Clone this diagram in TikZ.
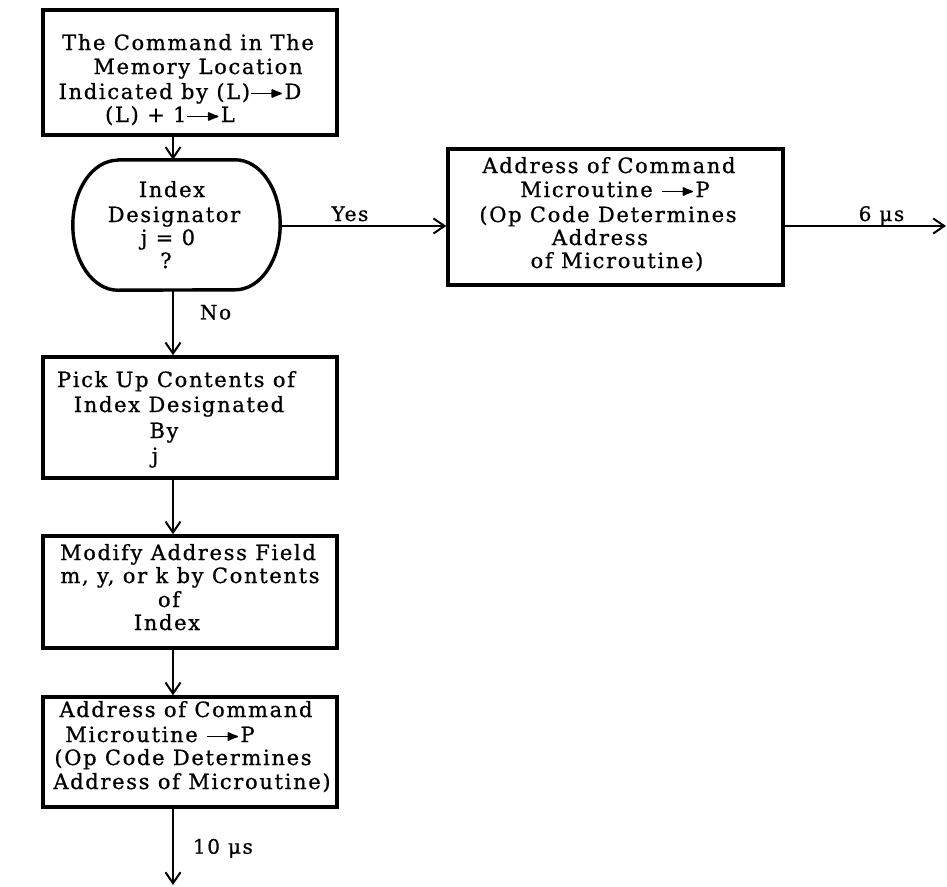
\documentclass[tikz,border=0pt]{standalone}
\usepackage{fontspec}
\setmainfont{DejaVu Serif}[LetterSpace=8, FakeBold=0.8]
\usetikzlibrary{arrows.meta}

% short "yields" arrow used inside the box texts
\newcommand{\yields}{\tikz[baseline=0pt]{\draw[line width=1.7pt,-{Latex[length=13pt,width=10pt,round]}] (0pt,5.5pt) -- (31pt,5.5pt);}}

\begin{document}
\begin{tikzpicture}[x=1pt,y=-1pt,
  box/.style={draw=black, line width=3.4pt, inner sep=0pt},
  txt/.style={anchor=base, inner sep=0pt, font=\fontsize{21}{24}\selectfont},
  lbl/.style={inner sep=0pt, font=\fontsize{20}{24}\selectfont},
  conn/.style={line width=2pt, -{Straight Barb[length=11pt,width=15pt,line width=2pt]}},
  edge/.style={line width=3.4pt, line join=round}]

\fill[white] (0,0) rectangle (947,886);
\useasboundingbox (0,0) rectangle (947,886);

% flow column
\coordinate (cx) at (173,0);

% fetch box
\node[box, minimum width=294pt, minimum height=125pt] (b1) at (190,72.5) {};
\node[txt] (t1a) at (188,50)  {The Command in The};
\node[txt] (t1b) at (198,74)  {Memory Location};
\node[txt] (t1c) at (180,99)  {Indicated by (L)\yields D};
\node[txt] (t1d) at (170,122) {(L) + 1\yields L};

% decision: index designator
\node[minimum width=207pt, minimum height=130pt, inner sep=0pt] (st) at (176.5,225) {};
\draw[edge] ([xshift=45pt]st.north west) -- ([xshift=-45pt]st.north east)
  arc[start angle=90, end angle=-90, x radius=45pt, y radius=65pt]
  -- ([xshift=45pt]st.south west)
  arc[start angle=270, end angle=90, x radius=45pt, y radius=65pt] -- cycle;
\node[txt] (tsa) at (172,197) {Index};
\node[txt] (tsb) at (174,222) {Designator};
\node[txt] (tsc) at (168,245) {j = 0};
\node[txt] (tsd) at (166,268) {?};

% direct microroutine address
\node[box, minimum width=335pt, minimum height=136pt] (b2) at (615.5,217) {};
\node[txt] (t2a) at (609,173) {Address of Command};
\node[txt] (t2b) at (615,197) {Microutine \yields P};
\node[txt] (t2c) at (608,222) {(Op Code Determines};
\node[txt] (t2d) at (600,245) {Address};
\node[txt] (t2e) at (617,268) {of Microutine)};

% index pick-up
\node[box, minimum width=294pt, minimum height=121pt] (b3) at (190,417.5) {};
\node[txt] (t3a) at (176,387) {Pick Up Contents of};
\node[txt] (t3b) at (179,412) {Index Designated};
\node[txt] (t3c) at (164,438) {By};
\node[txt] (t3d) at (155,463) {j};

% address modification
\node[box, minimum width=294pt, minimum height=112pt] (b4) at (190,592) {};
\node[txt] (t4a) at (188,560) {Modify Address Field};
\node[txt] (t4b) at (190,583) {m, y, or k by Contents};
\node[txt] (t4c) at (169,607) {of};
\node[txt] (t4d) at (167,630) {Index};

% indexed microroutine address
\node[box, minimum width=294pt, minimum height=110pt] (b5) at (190,752) {};
\node[txt] (t5a) at (186,717) {Address of Command};
\node[txt] (t5b) at (160,742) {Microutine \yields P};
\node[txt] (t5c) at (183,765) {(Op Code Determines};
\node[txt] (t5d) at (192,789) {Address of Microutine)};

% free ends
\coordinate (out6) at (946,226);
\coordinate (out10) at (173,885);

% connectors
\draw[conn] (b1.south -| cx) -- (st.north -| cx);
\draw[conn] (st.east |- out6) -- (b2.west |- out6)
  node[lbl, pos=0.42, anchor=base, yshift=5pt] (yes) {Yes};
\draw[conn] (b2.east |- out6) -- (out6)
  node[lbl, pos=0.6, anchor=base, yshift=5pt] (t6) {6 μs};
\draw[conn] (st.south -| cx) -- (b3.north -| cx)
  node[lbl, pos=0.45, anchor=base west, xshift=26pt] (no) {No};
\draw[conn] (b3.south -| cx) -- (b4.north -| cx);
\draw[conn] (b4.south -| cx) -- (b5.north -| cx);
\draw[conn] (b5.south -| cx) -- (out10)
  node[lbl, pos=0.59, anchor=base west, xshift=19pt] (t10) {10 μs};

\end{tikzpicture}
\end{document}
